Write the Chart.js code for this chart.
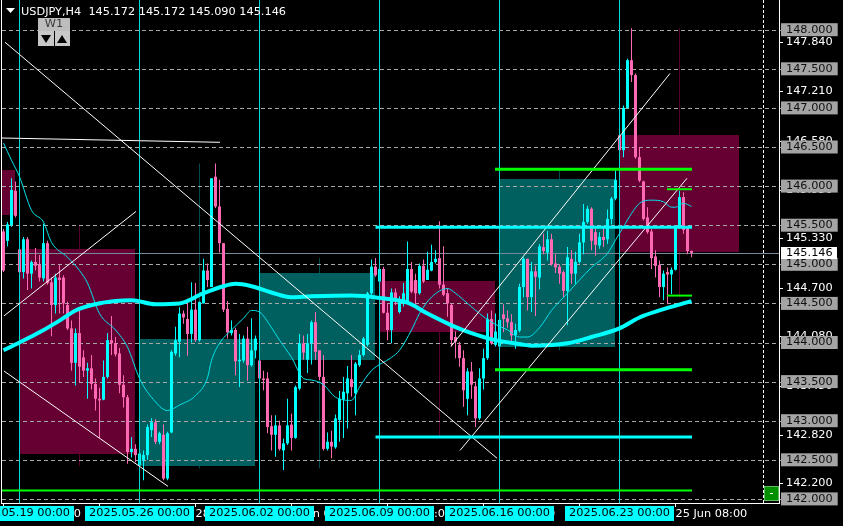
<!DOCTYPE html>
<html>
<head>
<meta charset="utf-8">
<script src="https://cdn.jsdelivr.net/npm/chart.js@4.4.1/dist/chart.umd.min.js"></script>
<style>
html,body{margin:0;padding:0;background:#000;width:843px;height:526px;overflow:hidden}
#c{display:block}
</style>
</head>
<body>
<canvas id="c" width="843" height="526" style="width:843px;height:526px"></canvas>
<script>
// ================= DATA =================
const symbolTitle = 'USDJPY,H4';

// H4 candles, bar 0 = 2025.05.16 08:00
const opens = [145.42,145.30,145.50,145.94,145.19,144.90,145.32,144.88,145.03,144.99,
144.82,145.27,144.77,144.48,144.83,144.83,144.48,144.18,143.74,144.12,
143.81,143.64,143.67,143.47,143.28,143.27,143.56,144.03,143.99,143.86,
143.46,143.30,142.60,142.64,142.43,142.50,142.56,142.88,142.98,142.73,
142.82,142.26,142.85,143.86,144.01,144.37,144.30,144.11,144.42,144.03,
144.50,144.92,144.71,146.12,145.74,145.27,144.43,144.12,144.16,143.76,
143.77,144.05,143.71,143.90,143.77,143.54,143.54,142.93,142.82,142.94,
142.62,142.71,142.95,142.78,143.41,143.99,143.78,143.99,144.26,143.90,
143.56,142.64,142.73,142.66,143.01,143.27,143.35,143.53,143.35,143.71,
143.84,143.97,144.63,144.97,144.78,144.94,144.38,144.16,144.64,144.39,
144.50,144.52,144.94,144.80,144.63,144.98,144.80,144.92,145.03,145.08,
144.74,144.63,144.48,144.07,143.97,143.80,143.28,143.63,143.44,143.03,
143.54,143.80,144.30,143.97,143.95,144.36,144.31,144.26,144.09,144.15,
144.71,145.07,144.58,144.91,144.83,145.22,145.15,145.32,145.01,144.97,
144.90,144.66,145.07,144.88,145.03,145.28,145.54,145.71,145.41,145.24,
145.35,145.32,145.58,145.84,146.65,146.46,147.00,147.61,147.42,146.37,
146.06,145.60,145.42,145.10,144.99,144.71,144.90,144.87,144.93,145.48,
145.86,145.47,145.172];
const highs = [145.45,145.54,146.10,146.06,145.21,145.35,145.35,145.05,145.21,145.12,
145.52,145.30,144.83,144.88,144.99,144.86,144.52,144.28,144.18,144.41,
143.90,143.74,143.84,143.54,143.42,143.77,144.12,144.34,144.07,143.93,
143.58,143.33,142.79,142.70,142.62,142.62,142.95,143.03,143.02,142.86,
142.95,142.86,143.90,144.20,144.45,144.41,144.56,144.77,144.76,144.52,
145.07,145.01,146.10,146.29,146.08,145.27,144.53,144.28,144.19,144.11,
144.09,144.20,144.31,144.09,143.77,143.64,143.62,143.07,143.07,143.00,
142.77,143.28,143.09,143.45,144.11,144.09,144.11,144.28,144.39,143.90,
143.84,142.85,142.87,143.08,143.38,143.56,143.70,143.84,143.75,143.90,
144.07,144.65,145.06,145.08,144.95,144.97,144.50,144.69,144.69,144.59,
144.76,145.29,145.03,144.88,145.01,145.06,145.16,145.25,145.18,145.55,
145.23,144.69,144.50,144.14,144.01,143.90,143.67,143.75,143.50,143.67,
143.92,144.37,144.41,144.37,144.37,144.49,144.41,144.36,144.24,144.75,
145.09,145.07,145.03,144.98,145.26,145.39,145.43,145.39,145.13,145.00,
144.92,145.22,145.18,145.16,145.39,145.77,145.75,145.73,145.46,145.41,
145.47,145.70,145.86,146.20,146.65,147.03,147.63,148.02,147.44,146.50,
146.07,145.73,145.45,145.18,145.05,144.92,144.96,144.96,145.50,145.94,
145.92,145.49,145.172];
const lows = [144.90,145.23,145.48,145.60,144.88,144.82,144.67,144.69,144.92,144.78,
144.78,144.74,144.08,144.37,144.37,144.37,144.16,143.64,143.45,143.49,
143.56,143.28,143.40,143.13,142.78,143.26,143.54,143.84,143.82,143.35,
143.17,142.45,142.53,142.47,142.40,142.24,142.50,142.79,142.70,142.70,
142.24,142.24,142.84,143.83,143.81,144.24,143.83,144.00,144.01,144.01,
144.50,144.71,144.71,145.72,145.15,144.39,144.05,144.09,143.58,143.43,
143.74,143.51,143.69,143.80,143.52,143.39,142.84,142.62,142.54,142.62,
142.37,142.69,142.62,142.77,143.39,143.78,143.61,143.72,143.78,143.52,
142.62,142.62,142.52,142.64,142.73,142.78,142.90,143.31,143.07,143.69,
143.82,143.95,144.61,144.84,144.76,144.37,144.03,143.99,144.48,144.37,
144.46,144.50,144.63,144.48,144.61,144.76,144.80,144.91,145.01,144.69,
144.59,144.33,143.95,143.80,143.69,143.18,143.07,143.28,142.92,143.01,
143.40,143.78,143.97,143.95,143.95,144.13,144.19,144.02,143.92,144.13,
144.58,144.41,144.39,144.34,144.68,145.13,145.05,144.98,144.89,144.75,
144.58,144.22,144.75,144.75,145.01,145.13,145.52,145.18,145.11,145.20,
145.22,145.26,145.51,145.82,146.37,146.37,146.99,147.33,146.35,146.05,
145.56,145.39,144.94,144.83,144.58,144.54,144.49,144.62,144.92,145.45,
145.39,145.13,145.090];
const closes = [144.92,145.51,145.95,145.62,144.90,145.32,144.88,145.03,144.98,144.83,
145.27,144.76,144.48,144.83,144.80,144.50,144.18,143.74,144.12,143.69,
143.64,143.67,143.47,143.28,143.26,143.56,144.03,143.99,143.85,143.46,
143.30,142.60,142.64,142.56,142.58,142.56,142.92,142.98,142.73,142.84,
142.26,142.84,143.88,144.03,144.37,144.32,144.11,144.42,144.03,144.52,
144.92,144.80,146.10,145.74,145.27,144.42,144.13,144.16,143.76,143.78,
144.05,143.71,143.90,144.05,143.54,143.52,142.92,142.82,142.94,142.64,
142.71,142.94,142.78,143.43,143.99,143.87,143.99,144.26,143.88,143.56,
142.64,142.73,142.67,143.03,143.28,143.37,143.54,143.43,143.73,143.84,
144.05,144.63,144.97,144.86,144.94,144.38,144.16,144.64,144.52,144.52,
144.63,144.94,144.65,144.63,144.98,144.78,144.93,145.03,145.07,144.74,
144.61,144.50,144.03,144.01,143.80,143.39,143.63,143.46,143.03,143.54,
143.80,144.30,143.99,144.14,144.29,144.30,144.26,144.09,144.16,144.71,
145.07,144.58,144.91,144.84,145.23,145.17,145.32,145.00,144.96,144.88,
144.66,145.09,144.88,145.03,145.28,145.54,145.71,145.30,145.25,145.35,
145.31,145.58,145.84,146.08,146.46,147.00,147.61,147.42,146.37,146.07,
145.58,145.41,145.08,144.98,144.71,144.88,144.87,144.93,145.48,145.86,
145.44,145.17,145.146];

// time axis
const weekStartBars = [4, 34, 64, 94, 124, 154];
const weekStartLabels = ['2025.05.19 00:00','2025.05.26 00:00','2025.06.02 00:00','2025.06.09 00:00','2025.06.16 00:00','2025.06.23 00:00'];
const timeTickBars = [0, 24, 48, 72, 96, 120, 144, 168];
const timeTickLabels = ['16 May 08:00','22 May 08:00','28 May 08:00','3 Jun 08:00','9 Jun 08:00','13 Jun 08:00','19 Jun 08:00','25 Jun 08:00'];
const futureMarkerBar = 190;

// price axis
const gridPrices = [142.0,142.5,143.0,143.5,144.0,144.5,145.0,145.5,146.0,146.5,147.0,147.5,148.0];
const nativePriceTicks = [147.84,147.21,146.58,145.95,145.33,144.70,144.08,143.45,142.82,142.20];
const bidPrice = 145.146;

// moving averages
const slowMaBars = [0,4,9,14,18,23,28,32,38,44,50,55,58,62,67,72,77,87,94,101,106,112,117,123,129,132,141,147,154,159,164,172];
const slowMaValues = [143.90,144.00,144.13,144.28,144.41,144.49,144.53,144.54,144.49,144.50,144.63,144.72,144.75,144.72,144.64,144.58,144.59,144.60,144.57,144.51,144.37,144.22,144.12,144.03,143.98,143.96,143.99,144.07,144.18,144.32,144.41,144.53];
const fastMaBars = [0,2,4,7,10,12,16,19,21,24,28,31,34,37,41,44,48,51,52,54,57,60,62,64,67,69,72,75,77,80,83,87,89,92,97,99,102,104,107,111,113,116,119,122,126,129,131,134,137,141,144,147,151,153,155,157,159,162,165,167,168,170,172];
const fastMaValues = [146.55,146.33,146.12,145.69,145.54,145.28,145.09,144.92,144.76,144.37,144.16,143.94,143.54,143.30,143.13,143.20,143.32,143.55,143.77,143.99,144.16,144.31,144.41,144.39,144.19,144.03,143.81,143.54,143.52,143.46,143.30,143.26,143.43,143.64,143.81,143.90,144.16,144.37,144.58,144.69,144.63,144.50,144.37,144.26,144.16,144.07,144.07,144.19,144.41,144.63,144.80,144.96,145.14,145.31,145.48,145.65,145.78,145.82,145.80,145.73,145.73,145.78,145.74];

// weekly zones
const zoneFromBars = [-1, 4, 34, 64, 94, 124, 154];
const zoneToBars = [2.875, 32.875, 62.875, 92.875, 122.875, 152.875, 183.875];
const zoneHighs = [146.20, 145.19, 144.05, 144.885, 144.79, 146.09, 146.65];
const zoneLows = [145.63, 142.57, 142.42, 143.78, 144.14, 143.94, 145.16];
const zoneBearish = [true, true, false, false, true, false, true];

// weekly range markers
const rangeBars = [19, 49, 79, 109, 139, 169];
const rangeHighs = [145.50, 146.29, 145.08, 145.55, 146.20, 148.02];
const rangeLows = [142.42, 142.39, 142.39, 142.78, 143.90, 144.58];
const rangeBearish = [true, false, false, true, false, true];

// trend lines
const trendFromBars = [-0.375, 0.375, 0.125, 0.125, 111.875, 114.125];
const trendFromPrices = [146.615, 147.84, 143.635, 144.34, 143.95, 142.62];
const trendToBars = [54.125, 123.375, 41.125, 33.125, 166.625, 170.875];
const trendToPrices = [146.56, 142.52, 142.16, 145.676, 147.44, 146.10];

// horizontal levels
const greenLevelPrices = [146.214, 143.653, 145.96, 144.60, 142.108];
const greenLevelFrom = [122.875, 122.875, 165.875, 165.875, -0.5];
const greenLevelTo = [172.125, 172.125, 172.125, 172.125, 172.125];
const cyanLevelPrices = [145.475, 142.79];
const cyanLevelFrom = [93.0, 93.0];
const cyanLevelTo = [172.125, 172.125];

// ================= STYLE =================
const X_MIN = -0.375, X_MAX = 193.875;
const Y_MIN = 141.9476, Y_MAX = 148.3798;
const FONT = '"DejaVu Sans"';
const FS = 11.3;
const BULL = '#00FFFF', BEAR = '#FF69B4';
const MAROON = '#660033', TEAL = '#005F5F';
const greenWidths = [3, 3, 2, 2, 2];

// ================= BUILD =================
const bullBodies = [], bearBodies = [], bullWicks = [], bearWicks = [];
for (let i = 0; i < opens.length; i++) {
  const up = closes[i] >= opens[i];
  (up ? bullWicks : bearWicks).push({x: i, y: [lows[i], highs[i]]});
  (up ? bullBodies : bearBodies).push({x: i, y: [opens[i], closes[i]]});
}
const barBase = {type: 'bar', borderWidth: 0, grouped: false, inflateAmount: 0, minBarLength: 1};
const lineBase = {type: 'line', pointRadius: 0, pointHoverRadius: 0, fill: false, tension: 0, borderCapStyle: 'butt', clip: 0};
const datasets = [
  {...barBase, data: bullWicks, backgroundColor: BULL, barThickness: 1, order: 30},
  {...barBase, data: bearWicks, backgroundColor: BEAR, barThickness: 1, order: 30},
  {...barBase, data: bullBodies, backgroundColor: BULL, barThickness: 3, order: 29},
  {...barBase, data: bearBodies, backgroundColor: BEAR, barThickness: 3, order: 29}
];
weekStartBars.forEach(k => datasets.push({...lineBase, data: [{x: k, y: Y_MAX}, {x: k, y: Y_MIN}], borderColor: '#00D8D8', borderWidth: 1, order: 25}));
datasets.push({...lineBase, data: fastMaBars.map((k, i) => ({x: k, y: fastMaValues[i]})), borderColor: '#00E5EE', borderWidth: 1, cubicInterpolationMode: 'monotone', order: 20});
datasets.push({...lineBase, data: slowMaBars.map((k, i) => ({x: k, y: slowMaValues[i]})), borderColor: '#00FFFF', borderWidth: 4, cubicInterpolationMode: 'monotone', order: 19});
trendFromBars.forEach((k, i) => datasets.push({...lineBase, data: [{x: k, y: trendFromPrices[i]}, {x: trendToBars[i], y: trendToPrices[i]}], borderColor: '#FFFFFF', borderWidth: 1, order: 18}));
cyanLevelPrices.forEach((p, i) => datasets.push({...lineBase, data: [{x: cyanLevelFrom[i], y: p}, {x: cyanLevelTo[i], y: p}], borderColor: '#00FFFF', borderWidth: 3, order: 10}));
greenLevelPrices.forEach((p, i) => datasets.push({...lineBase, data: [{x: greenLevelFrom[i], y: p}, {x: greenLevelTo[i], y: p}], borderColor: '#00FF00', borderWidth: greenWidths[i], order: 9}));
datasets.push({...lineBase, data: [{x: futureMarkerBar, y: Y_MAX}, {x: futureMarkerBar, y: Y_MIN}], borderColor: '#FFFFFF', borderWidth: 1, borderDash: [3, 2], order: 8});

const mt4Plugin = {
  id: 'mt4',
  beforeDraw(chart) {
    const {ctx, chartArea: a, scales: {x, y}} = chart;
    ctx.save();
    ctx.fillStyle = '#000';
    ctx.fillRect(0, 0, chart.width, chart.height);
    // native MT4 price scale labels (under the grid boxes)
    ctx.font = FS + 'px ' + FONT;
    ctx.textAlign = 'left';
    ctx.textBaseline = 'middle';
    ctx.fillStyle = '#FFFFFF';
    nativePriceTicks.forEach(p => {
      const py = Math.round(y.getPixelForValue(p));
      ctx.fillText(p.toFixed(3), y.left + 7, py + 0.5);
      ctx.fillRect(a.right + 1, py, 3, 1);
    });
    // clip to plot
    ctx.save();
    ctx.beginPath();
    ctx.rect(a.left, a.top, a.right - a.left, a.bottom - a.top);
    ctx.clip();
    // range markers
    rangeBars.forEach((k, i) => {
      const px = Math.round(x.getPixelForValue(k) - 0.5);
      const y1 = y.getPixelForValue(rangeHighs[i]), y2 = y.getPixelForValue(rangeLows[i]);
      ctx.fillStyle = rangeBearish[i] ? '#5A0030' : '#004C4C';
      ctx.fillRect(px, y1, 1, y2 - y1);
    });
    // zones
    zoneFromBars.forEach((k, i) => {
      const x1 = x.getPixelForValue(k), x2 = x.getPixelForValue(zoneToBars[i]);
      const y1 = y.getPixelForValue(zoneHighs[i]), y2 = y.getPixelForValue(zoneLows[i]);
      ctx.fillStyle = zoneBearish[i] ? MAROON : TEAL;
      ctx.fillRect(Math.round(x1), Math.round(y1), Math.round(x2) - Math.round(x1), Math.round(y2) - Math.round(y1));
    });
    ctx.restore();
    // dashed price grid
    ctx.strokeStyle = '#A8A8A8';
    ctx.lineWidth = 1;
    ctx.setLineDash([4, 3]);
    gridPrices.forEach(p => {
      const py = Math.round(y.getPixelForValue(p)) + 0.5;
      ctx.beginPath();
      ctx.moveTo(a.left, py);
      ctx.lineTo(a.right + 2, py);
      ctx.stroke();
    });
    ctx.restore();
  },
  beforeDatasetsDraw(chart) {
    const {ctx, chartArea: a, scales: {y}} = chart;
    ctx.save();
    const py = Math.round(y.getPixelForValue(bidPrice)) + 0.5;
    ctx.strokeStyle = '#778899';
    ctx.lineWidth = 1;
    ctx.beginPath();
    ctx.moveTo(a.left, py);
    ctx.lineTo(a.right, py);
    ctx.stroke();
    ctx.restore();
  },
  afterDraw(chart) {
    const {ctx, chartArea: a, scales: {x, y}} = chart;
    ctx.save();
    // left frame
    ctx.fillStyle = '#FFFFFF';
    ctx.fillRect(a.left - 1, 0, 1, a.bottom + 1);
    // bid label
    const by = Math.round(y.getPixelForValue(bidPrice));
    ctx.fillStyle = '#FFFFFF';
    ctx.fillRect(a.right + 2, by - 6, 56, 12);
    ctx.fillStyle = '#000';
    ctx.font = FS + 'px ' + FONT;
    ctx.textAlign = 'left';
    ctx.textBaseline = 'middle';
    ctx.fillText(bidPrice.toFixed(3), y.left + 7, by + 0.5);
    // week labels on time axis
    ctx.textAlign = 'center';
    weekStartBars.forEach((k, i) => {
      const px = x.getPixelForValue(k);
      ctx.fillStyle = '#00FFFF';
      ctx.fillRect(Math.round(px - 54.5), a.bottom + 3, 109, 15);
      ctx.fillStyle = '#000';
      ctx.fillText(weekStartLabels[i], px, a.bottom + 10.5);
    });
    // header
    const last = opens.length - 1;
    ctx.fillStyle = '#FFFFFF';
    ctx.beginPath();
    ctx.moveTo(6, 8); ctx.lineTo(15, 8); ctx.lineTo(10.5, 13); ctx.closePath(); ctx.fill();
    ctx.textAlign = 'left';
    ctx.fillText(symbolTitle + '  ' + [opens[last], highs[last], lows[last], closes[last]].map(v => v.toFixed(3)).join(' '), 21, 12);
    // W1 button
    ctx.fillStyle = '#BDBDBD';
    ctx.fillRect(38, 18, 32, 13);
    ctx.fillStyle = '#3A3A3A';
    ctx.textAlign = 'center';
    ctx.fillText('W1', 54, 24.5);
    ctx.fillStyle = '#C8C8C8';
    ctx.fillRect(38, 31, 16, 15);
    ctx.fillRect(55, 31, 15, 15);
    ctx.fillStyle = '#000';
    ctx.beginPath(); ctx.moveTo(41, 35); ctx.lineTo(51, 35); ctx.lineTo(46, 43); ctx.closePath(); ctx.fill();
    ctx.beginPath(); ctx.moveTo(57, 43); ctx.lineTo(67, 43); ctx.lineTo(62, 35); ctx.closePath(); ctx.fill();
    // small green button
    ctx.fillStyle = '#5DBB5D';
    ctx.fillRect(764, a.bottom - 17, 15, 15);
    ctx.fillStyle = '#009000';
    ctx.fillRect(765, a.bottom - 16, 13, 13);
    ctx.fillStyle = '#FFFFFF';
    ctx.fillRect(770, a.bottom - 10, 3, 1);
    ctx.restore();
  }
};

Chart.defaults.font.family = FONT;
new Chart(document.getElementById('c'), {
  type: 'bar',
  data: {datasets},
  options: {
    responsive: false,
    animation: false,
    devicePixelRatio: 1,
    events: [],
    layout: {autoPadding: false, padding: {left: 2, top: 0, right: 0, bottom: 0}},
    plugins: {legend: {display: false}, tooltip: {enabled: false}, title: {display: false}},
    scales: {
      x: {
        type: 'linear', position: 'bottom', min: X_MIN, max: X_MAX, offset: false,
        afterFit(s) { s.height = 23; s.paddingLeft = 0; s.paddingRight = 0; },
        afterBuildTicks(s) { s.ticks = timeTickBars.map(v => ({value: v})); },
        ticks: {autoSkip: false, maxRotation: 0, minRotation: 0, align: 'start', padding: 0, labelOffset: 0, color: '#FFFFFF',
          font: {family: FONT, size: FS}, callback: (v, i) => timeTickLabels[i]},
        grid: {display: true, offset: false, drawOnChartArea: false, drawTicks: true, tickLength: 4, tickColor: '#FFFFFF', color: '#FFFFFF'},
        border: {display: true, color: '#FFFFFF', width: 1}
      },
      y: {
        type: 'linear', position: 'right', min: Y_MIN, max: Y_MAX,
        afterFit(s) { s.width = 64; s.paddingTop = 0; s.paddingBottom = 0; },
        afterBuildTicks(s) { s.ticks = gridPrices.map(v => ({value: v})); },
        ticks: {autoSkip: false, padding: 7, color: '#101010', font: {family: FONT, size: FS, lineHeight: 1.15},
          showLabelBackdrop: true, backdropColor: '#A4A4A4', backdropPadding: {left: 5, right: 5, top: 0, bottom: 0},
          callback: v => Number(v).toFixed(3)},
        grid: {display: false, drawTicks: false},
        border: {display: true, color: '#FFFFFF', width: 1}
      }
    }
  },
  plugins: [mt4Plugin]
});
</script>
</body>
</html>
